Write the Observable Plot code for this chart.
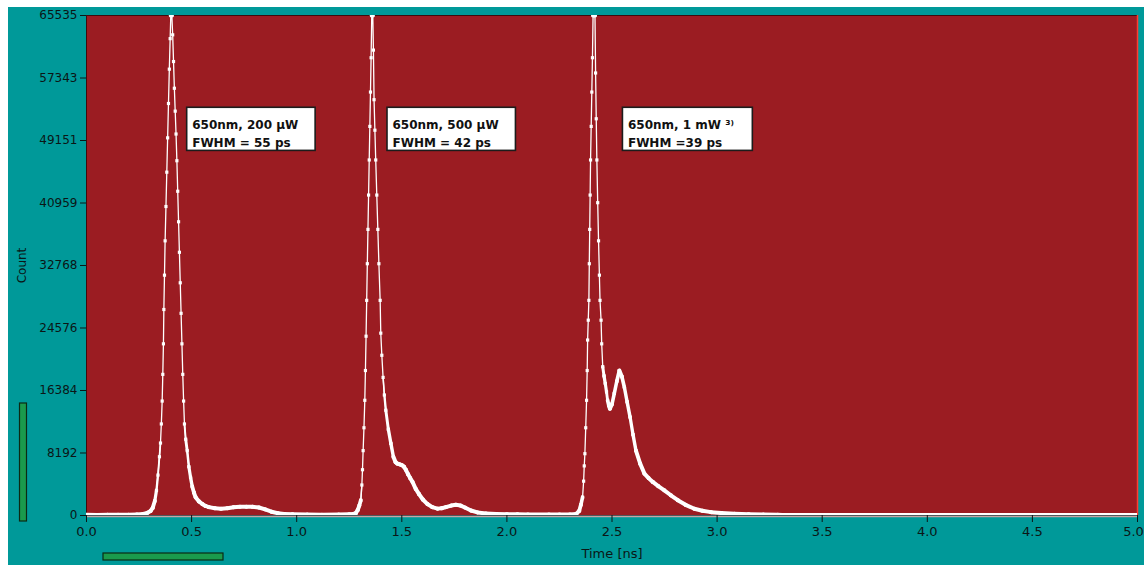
<!DOCTYPE html>
<html>
<head>
<meta charset="utf-8">
<script src="https://cdn.jsdelivr.net/npm/d3@7"></script>
<script src="https://cdn.jsdelivr.net/npm/@observablehq/plot@0.6"></script>
<style>
  html, body { margin: 0; padding: 0; background: #ffffff; }
  #chart { position: absolute; left: 8px; top: 7px; }
</style>
</head>
<body>
<div id="chart"></div>
<script>
// ---- Data ----
const xTicks = [0, 0.5, 1, 1.5, 2, 2.5, 3, 3.5, 4, 4.5, 5];
const yTicks = [0, 8192, 16384, 24576, 32768, 40959, 49151, 57343, 65535];

const leadTime  = [0.00, 0.05, 0.10, 0.15, 0.20, 0.24];
const leadCount = [90, 80, 90, 100, 110, 140];

const pulse1Time = [0.27, 0.29, 0.305, 0.315, 0.325, 0.333, 0.340, 0.347, 0.352, 0.356, 0.360, 0.363, 0.366, 0.368, 0.371, 0.374, 0.378, 0.382, 0.386, 0.390, 0.394, 0.398, 0.401, 0.406, 0.410, 0.414, 0.418, 0.422, 0.426, 0.430, 0.434, 0.438, 0.442, 0.446, 0.450, 0.454, 0.458, 0.462, 0.466, 0.472, 0.479, 0.487, 0.495, 0.503, 0.511, 0.519, 0.535, 0.551, 0.566, 0.582, 0.61, 0.64, 0.67, 0.70, 0.73, 0.76, 0.79, 0.82, 0.85, 0.88, 0.91, 0.94, 0.98, 1.05, 1.12, 1.2];
const pulse1Count = [200, 350, 600, 1000, 1900, 3300, 5300, 7700, 9500, 12000, 15000, 18500, 22500, 27000, 31500, 36000, 40500, 45000, 49500, 54000, 58500, 62500, 65535, 65535, 63000, 59500, 56000, 53000, 50000, 46500, 42500, 38500, 34500, 30500, 26500, 22500, 18500, 15000, 12000, 10000, 8500, 6400, 5000, 3800, 3000, 2400, 1850, 1500, 1250, 1100, 950, 900, 950, 1080, 1150, 1160, 1140, 1050, 800, 500, 300, 200, 150, 120, 110, 120];

const pulse2Time = [1.25, 1.27, 1.281, 1.29, 1.298, 1.305, 1.310, 1.313, 1.316, 1.320, 1.324, 1.327, 1.330, 1.333, 1.336, 1.339, 1.342, 1.345, 1.348, 1.351, 1.354, 1.357, 1.362, 1.365, 1.368, 1.372, 1.376, 1.381, 1.386, 1.391, 1.397, 1.400, 1.405, 1.411, 1.417, 1.424, 1.436, 1.448, 1.460, 1.470, 1.479, 1.490, 1.500, 1.510, 1.519, 1.530, 1.540, 1.551, 1.566, 1.582, 1.600, 1.622, 1.645, 1.670, 1.690, 1.710, 1.735, 1.757, 1.780, 1.800, 1.829, 1.860, 1.900, 1.950, 2.000, 2.050, 2.100, 2.200];
const pulse2Count = [150, 200, 300, 700, 1300, 2000, 4000, 6000, 8500, 11500, 15100, 19000, 23500, 28200, 33000, 37500, 42000, 46600, 51000, 55500, 60000, 65535, 65535, 61000, 54500, 50500, 46600, 42000, 37500, 33000, 28200, 23900, 21000, 18100, 15800, 13800, 11300, 9450, 7700, 7000, 6800, 6700, 6600, 6400, 6000, 5400, 4900, 4400, 3500, 2800, 2100, 1500, 1100, 900, 950, 1100, 1300, 1400, 1300, 1050, 650, 400, 260, 200, 170, 150, 140, 130];

const pulse3Time = [2.25, 2.30, 2.33, 2.344, 2.352, 2.360, 2.365, 2.368, 2.371, 2.375, 2.379, 2.382, 2.384, 2.387, 2.390, 2.392, 2.394, 2.396, 2.398, 2.401, 2.404, 2.407, 2.410, 2.419, 2.422, 2.425, 2.428, 2.432, 2.436, 2.440, 2.443, 2.448, 2.451, 2.456, 2.462, 2.468, 2.474, 2.479, 2.485, 2.490, 2.500, 2.511, 2.523, 2.535, 2.547, 2.559, 2.572, 2.586, 2.600, 2.614, 2.634, 2.654, 2.674, 2.694, 2.720, 2.749, 2.780, 2.813, 2.850, 2.892, 2.930, 2.971, 3.020, 3.083, 3.150, 3.220, 3.289, 3.31];
const pulse3Count = [130, 140, 200, 600, 1400, 2400, 4500, 6500, 8100, 11500, 15100, 19000, 23000, 25600, 28200, 33000, 37500, 42000, 46600, 51000, 55500, 60000, 65535, 65535, 58000, 52000, 46600, 41000, 36000, 31500, 28200, 25600, 22500, 19500, 18300, 17300, 16200, 15100, 14400, 14000, 14600, 16000, 17600, 19000, 18200, 16800, 14900, 12900, 10600, 8500, 6800, 5500, 4900, 4400, 3850, 3300, 2650, 2000, 1400, 880, 620, 440, 320, 220, 160, 120, 90, 60];

const trailTime  = [3.5, 4.0, 4.5, 5.0];
const trailCount = [50, 50, 50, 50];

const labelLines = [
  "650nm, 200 µW\nFWHM = 55 ps",
  "650nm, 500 µW\nFWHM = 42 ps",
  "650nm, 1 mW ³⁾\nFWHM =39 ps"
];

// ---- Build the trace ----
const trace = [];
function add(ts, cs) { ts.forEach((t, i) => trace.push({t, c: cs[i]})); }
add(leadTime, leadCount);
add(pulse1Time, pulse1Count);
add(pulse2Time, pulse2Count);
add(pulse3Time, pulse3Count);
add(trailTime, trailCount);

// Shallow segments look thick in the original (dense markers overlap), steep ones thin
const pxPerNs = 1050 / 5, pxPerCount = 500 / 65535;
const segments = d3.pairs(trace).map(([a, b]) => {
  const slope = Math.abs(b.c - a.c) * pxPerCount / ((b.t - a.t) * pxPerNs);
  return {t1: a.t, c1: a.c, t2: b.t, c2: b.c, w: Math.max(0, Math.min(4, 4.6 - slope * 0.22))};
});

// annotation boxes (placed in data units)
const annotations = [
  {t1: 0.479, t2: 1.090, label: labelLines[0]},
  {t1: 1.432, t2: 2.043, label: labelLines[1]},
  {t1: 2.552, t2: 3.170, label: labelLines[2]}
];
const boxTop = 53440, boxBottom = 47790;

const TEAL = "#009999";
const RED = "#9b1c22";
const INK = "#0b1616";
const fmt = d3.format(".1f");

const chart = Plot.plot({
  width: 1136,
  height: 558,
  marginLeft: 78,
  marginRight: 7,
  marginTop: 8,
  marginBottom: 50,
  style: {background: TEAL, color: INK, fontFamily: "'DejaVu Sans', sans-serif", fontSize: "12px"},
  x: {domain: [0, 5]},
  y: {domain: [0, 65535]},
  marks: [
    Plot.frame({fill: RED, stroke: "none"}),
    Plot.ruleY([65535], {stroke: "#3d0c0e", strokeWidth: 1.2}),
    Plot.ruleX([0], {stroke: "#3d0c0e"}),
    Plot.ruleX([5], {stroke: "#ff3b30", strokeWidth: 1.5}),
    Plot.ruleY([0], {stroke: "#f5a8a8", dy: 1.2}),
    Plot.link(segments.filter(s => s.w > 1.3), {
      x1: "t1", y1: "c1", x2: "t2", y2: "c2",
      stroke: "white", strokeWidth: "w", strokeLinecap: "round", clip: true
    }),
    Plot.line(trace, {x: "t", y: "c", stroke: "white", strokeWidth: 1.3, clip: true}),
    Plot.dot(trace, {x: "t", y: "c", symbol: "square", r: 1.8, fill: "white", stroke: "none", clip: true}),
    Plot.rect(annotations, {x1: "t1", x2: "t2", y1: () => boxBottom, y2: () => boxTop, fill: "white", stroke: "#1c1c1c", strokeWidth: 1.6}),
    Plot.text(annotations, {
      x: "t1", y: () => boxTop, text: "label", textAnchor: "start", lineAnchor: "top",
      dx: 5, dy: 8, lineHeight: 1.5, fontWeight: "bold", fontSize: 12, fill: "#111"
    }),
    Plot.axisY({ticks: yTicks, tickFormat: d => String(d), tickSize: 6, tickPadding: 3, label: null, fontSize: 12}),
    Plot.axisX({ticks: xTicks, tickFormat: d => d === 5 ? "" : fmt(d), tickSize: 7, tickPadding: 4, label: null, fontSize: 13}),
    Plot.axisX({ticks: [5], tickFormat: fmt, tickSize: 0, tickPadding: 11, dx: -4, label: null, fontSize: 13}),
    Plot.text(["Count"], {frameAnchor: "left", dx: -64, rotate: -90, textAnchor: "middle", lineAnchor: "middle", fontSize: 12, fill: INK}),
    Plot.text(["Time [ns]"], {frameAnchor: "bottom", dy: 38, textAnchor: "middle", lineAnchor: "middle", fontSize: 13, fill: INK})
  ]
});

// scroll-bar like green indicators of the original software window
const svg = d3.select(chart);
svg.append("rect").attr("x", 11.5).attr("y", 396).attr("width", 7).attr("height", 118)
  .attr("fill", "#1a9a4c").attr("stroke", "#0b2a14").attr("stroke-width", 1.2);
svg.append("rect").attr("x", 95).attr("y", 546).attr("width", 120).attr("height", 7)
  .attr("fill", "#1a9a4c").attr("stroke", "#0b2a14").attr("stroke-width", 1.2);

document.getElementById("chart").appendChild(chart);
</script>
</body>
</html>
